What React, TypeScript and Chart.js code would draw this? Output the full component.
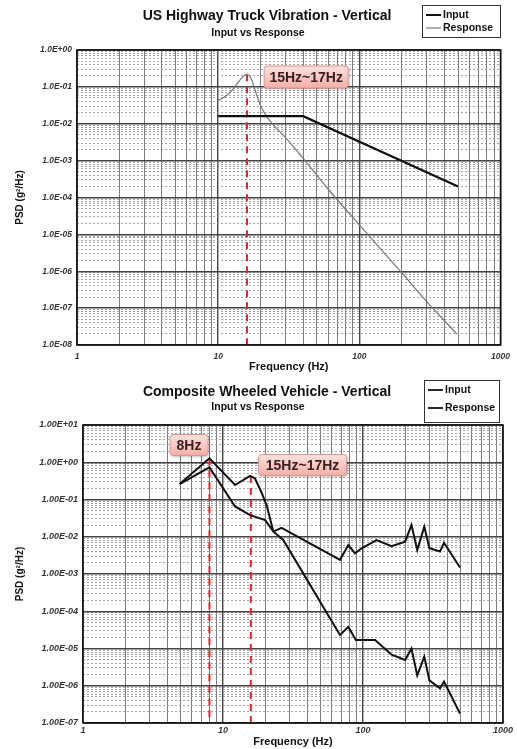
import React, { useEffect, useRef } from 'react';
import { Chart, registerables } from 'chart.js';

Chart.register(...registerables);

const FONT = '"Liberation Sans", Arial, Helvetica, sans-serif';

// ---------- shared axis ticks ----------
const X_MAJOR = [1, 10, 100, 1000];
const X_LABELS = ['1', '10', '100', '1000'];
const MINOR_MULT = [2, 3, 4, 5, 6, 7, 8, 9];
const SUBTITLE = 'Input vs Response';
const X_TITLE = 'Frequency (Hz)';
const Y_TITLE = 'PSD (g\u00B2/Hz)';
const LEGEND_NAMES = ['Input', 'Response'];

// ---------- chart 1 : US Highway Truck ----------
const T1_TITLE = 'US Highway Truck Vibration - Vertical';
const Y1_MAJOR = [1e-8, 1e-7, 1e-6, 1e-5, 1e-4, 1e-3, 1e-2, 1e-1, 1];
const Y1_LABELS = ['1.0E-08', '1.0E-07', '1.0E-06', '1.0E-05', '1.0E-04', '1.0E-03', '1.0E-02', '1.0E-01', '1.0E+00'];
const US_INPUT_HZ = [10, 40, 500];
const US_INPUT_PSD = [0.016, 0.016, 0.0002];
const US_RESP_HZ = [10, 11, 12, 13, 14, 15, 16, 17.2, 18.2, 19.2, 20.5, 22.5, 26.5, 30, 40, 60, 100, 200, 300, 490];
const US_RESP_PSD = [0.043, 0.052, 0.068, 0.095, 0.14, 0.19, 0.22, 0.16, 0.085, 0.045, 0.025, 0.014, 0.0068, 0.0042, 0.00115, 0.00017, 0.000018, 9e-7, 1.5e-7, 2e-8];
const US_MARK_HZ = [16];
const US_MARK_TOP = [0.22];
const US_TAGS = ['15Hz~17Hz'];
const US_TAG_HZ = [42];
const US_TAG_PSD = [0.185];

// ---------- chart 2 : Composite Wheeled Vehicle ----------
const T2_TITLE = 'Composite Wheeled Vehicle - Vertical';
const Y2_MAJOR = [1e-7, 1e-6, 1e-5, 1e-4, 1e-3, 1e-2, 1e-1, 1, 10];
const Y2_LABELS = ['1.00E-07', '1.00E-06', '1.00E-05', '1.00E-04', '1.00E-03', '1.00E-02', '1.00E-01', '1.00E+00', '1.00E+01'];
const CW_INPUT_HZ = [4.9, 8, 12.2, 15.6, 20, 22.9, 26.2, 68.5, 78.6, 87.7, 97.8, 125, 160, 200, 222, 244, 274, 298, 355, 379, 493];
const CW_INPUT_PSD = [0.26, 0.73, 0.065, 0.038, 0.028, 0.0138, 0.0174, 0.0024, 0.006, 0.0036, 0.0049, 0.0081, 0.0056, 0.0074, 0.0207, 0.0044, 0.0187, 0.0049, 0.004, 0.0069, 0.0015];
const CW_RESP_HZ = [4.9, 8, 12.2, 15.6, 16.9, 18.9, 20.5, 22.9, 27, 39.5, 52, 68.5, 78.6, 88.9, 122, 160, 200, 222, 244, 274, 298, 355, 379, 493];
const CW_RESP_PSD = [0.26, 1.28, 0.245, 0.43, 0.37, 0.15, 0.07, 0.0138, 0.0081, 0.00074, 0.00013, 0.000023, 0.000038, 0.000017, 0.000017, 0.0000068, 0.0000049, 0.00001, 0.0000019, 0.000006, 0.0000014, 8.5e-7, 1.3e-6, 1.8e-7];
const CW_MARK_HZ = [8, 15.8];
const CW_MARK_TOP = [1.28, 0.43];
const CW_TAGS = ['8Hz', '15Hz~17Hz'];
const CW_TAG_HZ = [5.72, 37];
const CW_TAG_PSD = [2.9, 0.84];

// ---------- helpers ----------
const toXY = (xs: number[], ys: number[]) => xs.map((x, i) => ({ x, y: ys[i] }));

const gridValues = (major: number[]) => {
  const out: { value: number; major: boolean }[] = [];
  major.forEach((m, i) => {
    out.push({ value: m, major: true });
    if (i < major.length - 1) MINOR_MULT.forEach((k) => out.push({ value: m * k, major: false }));
  });
  return out;
};

const findMajor = (major: number[], v: number) =>
  major.findIndex((m) => Math.abs(m - v) <= Math.abs(m) * 1e-6);

function roundRect(ctx: CanvasRenderingContext2D, x: number, y: number, w: number, h: number, r: number) {
  ctx.beginPath();
  ctx.moveTo(x + r, y);
  ctx.lineTo(x + w - r, y);
  ctx.quadraticCurveTo(x + w, y, x + w, y + r);
  ctx.lineTo(x + w, y + h - r);
  ctx.quadraticCurveTo(x + w, y + h, x + w - r, y + h);
  ctx.lineTo(x + r, y + h);
  ctx.quadraticCurveTo(x, y + h, x, y + h - r);
  ctx.lineTo(x, y + r);
  ctx.quadraticCurveTo(x, y, x + r, y);
  ctx.closePath();
}

type Spec = {
  title: string;
  titleY: number;
  subY: number;
  legend: { x: number; y: number; w: number; h: number; rows: number[]; colors: string[]; widths: number[] };
  yMajor: number[];
  yLabels: string[];
  padTop: number;
  padRight: number;
  yWidth: number;
  xHeight: number;
  tickFont: number;
  xTickPad: number;
  yTitlePad: number;
  xTitlePadBottom: number;
  datasets: any[];
  tags: { text: string; hz: number; psd: number; w: number; h: number }[];
};

function makeConfig(spec: Spec): any {
  const isMajY = (v: number) => findMajor(spec.yMajor, v) >= 0;
  const isMajX = (v: number) => findMajor(X_MAJOR, v) >= 0;

  const decor = {
    id: 'decor',
    afterDraw(chart: any) {
      const { ctx, chartArea: a, scales } = chart;
      ctx.save();
      // plot frame
      ctx.strokeStyle = '#111';
      ctx.lineWidth = 1.6;
      ctx.strokeRect(a.left, a.top, a.right - a.left, a.bottom - a.top);
      // titles
      ctx.fillStyle = '#111';
      ctx.textAlign = 'center';
      ctx.textBaseline = 'middle';
      ctx.font = `bold 14px ${FONT}`;
      ctx.fillText(spec.title, 267, spec.titleY);
      ctx.font = `bold 10.5px ${FONT}`;
      ctx.fillText(SUBTITLE, 258, spec.subY);
      // legend box
      const L = spec.legend;
      ctx.fillStyle = '#fff';
      ctx.fillRect(L.x, L.y, L.w, L.h);
      ctx.strokeStyle = '#333';
      ctx.lineWidth = 1;
      ctx.strokeRect(L.x + 0.5, L.y + 0.5, L.w, L.h);
      ctx.font = `bold 10.5px ${FONT}`;
      ctx.textAlign = 'left';
      LEGEND_NAMES.forEach((name, i) => {
        const yy = L.y + L.rows[i];
        ctx.strokeStyle = L.colors[i];
        ctx.lineWidth = L.widths[i];
        ctx.beginPath();
        ctx.moveTo(L.x + 4, yy);
        ctx.lineTo(L.x + 19, yy);
        ctx.stroke();
        ctx.fillStyle = '#111';
        ctx.fillText(name, L.x + 21, yy);
      });
      // tags
      spec.tags.forEach((t) => {
        const cx = scales.x.getPixelForValue(t.hz);
        const cy = scales.y.getPixelForValue(t.psd);
        const x = cx - t.w / 2;
        const y = cy - t.h / 2;
        ctx.save();
        ctx.shadowColor = 'rgba(0,0,0,0.3)';
        ctx.shadowBlur = 3;
        ctx.shadowOffsetX = 1;
        ctx.shadowOffsetY = 1;
        const g = ctx.createLinearGradient(0, y, 0, y + t.h);
        g.addColorStop(0, '#fde2df');
        g.addColorStop(1, '#f3aea7');
        ctx.fillStyle = g;
        roundRect(ctx, x, y, t.w, t.h, 3);
        ctx.fill();
        ctx.restore();
        ctx.strokeStyle = '#e3948d';
        ctx.lineWidth = 1;
        roundRect(ctx, x, y, t.w, t.h, 3);
        ctx.stroke();
        ctx.fillStyle = '#3a2020';
        ctx.font = `bold 14px ${FONT}`;
        ctx.textAlign = 'center';
        ctx.textBaseline = 'middle';
        ctx.fillText(t.text, cx, cy + 1);
      });
      ctx.restore();
    },
  };

  const tickFont = { family: FONT, size: spec.tickFont, style: 'italic' as const, weight: 'bold' as const };

  return {
    type: 'line',
    data: { datasets: spec.datasets },
    plugins: [decor],
    options: {
      responsive: false,
      animation: false,
      devicePixelRatio: 1,
      layout: { padding: { top: spec.padTop, right: spec.padRight, left: 0, bottom: 0 } },
      plugins: { legend: { display: false }, tooltip: { enabled: false }, title: { display: false } },
      elements: { point: { radius: 0 } },
      scales: {
        x: {
          type: 'logarithmic',
          min: X_MAJOR[0],
          max: X_MAJOR[X_MAJOR.length - 1],
          afterBuildTicks: (s: any) => {
            s.ticks = gridValues(X_MAJOR);
          },
          afterFit: (s: any) => {
            s.height = spec.xHeight;
          },
          ticks: {
            autoSkip: false,
            maxRotation: 0,
            minRotation: 0,
            padding: spec.xTickPad,
            color: '#333',
            font: tickFont,
            callback: (v: number) => {
              const i = findMajor(X_MAJOR, v);
              return i >= 0 ? X_LABELS[i] : '';
            },
          },
          grid: {
            drawTicks: false,
            color: (c: any) => (c.tick && isMajX(c.tick.value) ? '#444' : '#7d7d7d'),
            lineWidth: (c: any) => (c.tick && isMajX(c.tick.value) ? 1.4 : 1),
          },
          border: { display: false },
          title: {
            display: true,
            text: X_TITLE,
            color: '#111',
            font: { family: FONT, size: 11, weight: 'bold' },
            padding: { top: 0, bottom: spec.xTitlePadBottom },
          },
        },
        y: {
          type: 'logarithmic',
          min: spec.yMajor[0],
          max: spec.yMajor[spec.yMajor.length - 1],
          afterBuildTicks: (s: any) => {
            s.ticks = gridValues(spec.yMajor);
          },
          afterFit: (s: any) => {
            s.width = spec.yWidth;
          },
          ticks: {
            autoSkip: false,
            padding: 5,
            color: '#333',
            font: tickFont,
            callback: (v: number) => {
              const i = findMajor(spec.yMajor, v);
              return i >= 0 ? spec.yLabels[i] : '';
            },
          },
          grid: {
            drawTicks: false,
            color: (c: any) => (c.tick && isMajY(c.tick.value) ? '#444' : '#8f8f8f'),
            lineWidth: (c: any) => (c.tick && isMajY(c.tick.value) ? 1.5 : 0.8),
          },
          border: {
            display: false,
            dash: (c: any) => (c.tick && !isMajY(c.tick.value) ? [2, 2] : []),
          },
          title: {
            display: true,
            text: Y_TITLE,
            color: '#111',
            font: { family: FONT, size: 10, weight: 'bold' },
            padding: { top: spec.yTitlePad, bottom: 0 },
          },
        },
      },
    },
  };
}

const markerSets = (hz: number[], top: number[], bottom: number) =>
  hz.map((h, i) => ({
    label: 'marker' + i,
    data: [
      { x: h, y: top[i] },
      { x: h, y: bottom },
    ],
    borderColor: '#e3262b',
    borderWidth: 2,
    borderDash: [7, 5],
    pointRadius: 0,
    fill: false,
  }));

const spec1: Spec = {
  title: T1_TITLE,
  titleY: 16,
  subY: 33,
  legend: { x: 422, y: 5, w: 78, h: 32, rows: [10, 23], colors: ['#111', '#777'], widths: [2, 1.2] },
  yMajor: Y1_MAJOR,
  yLabels: Y1_LABELS,
  padTop: 50,
  padRight: 15,
  yWidth: 77,
  xHeight: 31,
  tickFont: 8.5,
  xTickPad: 7,
  yTitlePad: 14,
  xTitlePadBottom: 2,
  datasets: [
    { label: 'Input', data: toXY(US_INPUT_HZ, US_INPUT_PSD), borderColor: '#111', borderWidth: 2.2, pointRadius: 0, fill: false },
    {
      label: 'Response',
      data: toXY(US_RESP_HZ, US_RESP_PSD),
      borderColor: '#777',
      borderWidth: 1.2,
      pointRadius: 0,
      fill: false,
      cubicInterpolationMode: 'monotone',
    },
    ...markerSets(US_MARK_HZ, US_MARK_TOP, Y1_MAJOR[0]),
  ],
  tags: US_TAGS.map((text, i) => ({ text, hz: US_TAG_HZ[i], psd: US_TAG_PSD[i], w: 84, h: 22 })),
};

const spec2: Spec = {
  title: T2_TITLE,
  titleY: 16,
  subY: 31,
  legend: { x: 424, y: 4, w: 75, h: 42, rows: [10, 28], colors: ['#111', '#111'], widths: [1.8, 1.8] },
  yMajor: Y2_MAJOR,
  yLabels: Y2_LABELS,
  padTop: 49,
  padRight: 14,
  yWidth: 83,
  xHeight: 26,
  tickFont: 9,
  xTickPad: 2,
  yTitlePad: 14,
  xTitlePadBottom: 0,
  datasets: [
    { label: 'Input', data: toXY(CW_INPUT_HZ, CW_INPUT_PSD), borderColor: '#111', borderWidth: 2, pointRadius: 0, fill: false },
    { label: 'Response', data: toXY(CW_RESP_HZ, CW_RESP_PSD), borderColor: '#111', borderWidth: 2, pointRadius: 0, fill: false },
    ...markerSets(CW_MARK_HZ, CW_MARK_TOP, Y2_MAJOR[0]),
  ],
  tags: CW_TAGS.map((text, i) => ({ text, hz: CW_TAG_HZ[i], psd: CW_TAG_PSD[i], w: i === 0 ? 38 : 88, h: 21 })),
};

function Panel({ spec, top, height }: { spec: Spec; top: number; height: number }) {
  const ref = useRef<HTMLCanvasElement>(null);
  useEffect(() => {
    if (!ref.current) return;
    const chart = new Chart(ref.current, makeConfig(spec));
    return () => chart.destroy();
  }, [spec]);
  return (
    <canvas
      ref={ref}
      width={517}
      height={height}
      style={{ position: 'absolute', left: 0, top, width: 517, height, display: 'block' }}
    />
  );
}

export default function App() {
  return (
    <div style={{ position: 'absolute', left: 0, top: 0, width: 517, height: 749, background: '#fff', overflow: 'hidden' }}>
      <Panel spec={spec1} top={0} height={376} />
      <Panel spec={spec2} top={376} height={373} />
    </div>
  );
}
